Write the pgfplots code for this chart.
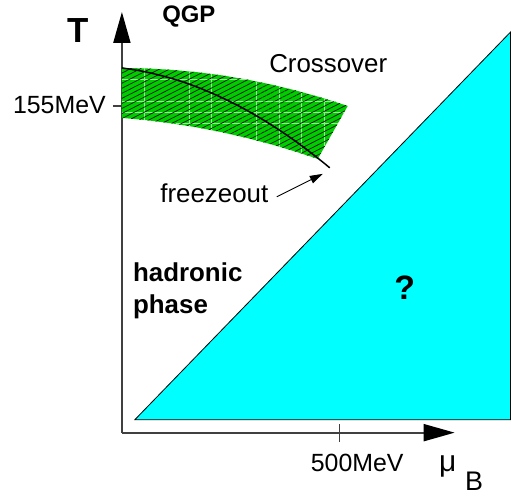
\documentclass[border=0pt]{standalone}
\usepackage{fontspec}
\setmainfont{Liberation Sans}
\usepackage{pgfplots}
\pgfplotsset{compat=1.18}
\usetikzlibrary{arrows.meta,patterns.meta}
\definecolor{bandgreen}{RGB}{0,204,0}
\definecolor{gridgreen}{RGB}{150,235,150}
\definecolor{axgray}{RGB}{64,64,64}
\definecolor{qcyan}{RGB}{0,255,255}
\begin{document}
\begin{tikzpicture}
\begin{axis}[
  x=1bp, y=1bp, xmin=0, xmax=333, ymin=0, ymax=421,
  axis lines=left, clip=false,
  axis line style={draw=axgray, line width=2bp, -{Triangle[length=31bp,width=17bp,color=black]}},
  xtick={218}, ytick={327}, xticklabels={}, yticklabels={},
  tick align=center, major tick length=18bp,
  tick style={draw=axgray, line width=1.3bp},
]
% invisible frame fixing the picture size
\path (axis cs:-122,-66) rectangle (axis cs:389,433);
% unknown region (triangle)
\addplot[fill=qcyan, draw=black, line width=0.8bp] coordinates {(13,13) (389,13) (389,401)} -- cycle;
% crossover band
\addplot[fill=bandgreen, draw=none] coordinates {
(0,365) (25,364.5) (50,363.1) (75,360.8) (100,357.6) (125,353.4) (150,348.3) (175,342.2) (200,335.2) (226,327)
(196,274) (175,280.9) (150,288.4) (125,294.9) (100,300.7) (75,305.5) (50,309.5) (25,312.7) (0,315)} -- cycle;
% light grid inside the band
\addplot[gridgreen, line width=1bp] coordinates {(22.5,364.6) (22.5,313.0)};
\addplot[gridgreen, line width=1bp] coordinates {(67.5,361.6) (67.5,306.8)};
\addplot[gridgreen, line width=1bp] coordinates {(90,359.0) (90,302.7)};
\addplot[gridgreen, line width=1bp] coordinates {(135,351.4) (135,292.4)};
\addplot[gridgreen, line width=1bp] coordinates {(157.5,346.5) (157.5,286.2)};
\addplot[gridgreen, line width=1bp] coordinates {(180,340.9) (180,279.3)};
\addplot[gridgreen, line width=1bp] coordinates {(202.5,334.5) (202.5,285.5)};
\addplot[gridgreen, line width=1bp] coordinates {(0,353) (127,353)};
\addplot[gridgreen, line width=1bp] coordinates {(0,331) (213.8,331)};
\addplot[gridgreen, line width=1bp] coordinates {(0,320) (222,320)};
\addplot[gridgreen, line width=1bp] coordinates {(53.8,309) (215.8,309)};
% hatching
\addplot[pattern={Lines[angle=27, distance=4.5bp, line width=0.6bp]}, pattern color=black, draw=none] coordinates {
(0,365) (25,364.5) (50,363.1) (75,360.8) (100,357.6) (125,353.4) (150,348.3) (175,342.2) (200,335.2) (226,327)
(196,274) (175,280.9) (150,288.4) (125,294.9) (100,300.7) (75,305.5) (50,309.5) (25,312.7) (0,315)} -- cycle;
% freeze-out curve
\addplot[black, line width=1.5bp, smooth] coordinates {
(0,365) (20,361.8) (40,357.2) (60,351.3) (80,344.0) (100,335.3) (120,325.3) (140,313.9) (160,301.2) (180,287.1) (200,271.6) (208,265)};
% freezeout arrow
\addplot[black, line width=0.9bp, -{Triangle[length=13bp,width=8bp]}] coordinates {(155,236) (201,259)};
% labels
\node[anchor=base, inner sep=0, font=\fontsize{35}{40}\selectfont\bfseries] at (axis cs:-43.5,390) {T};
\node[anchor=base, inner sep=0, font=\fontsize{24}{28}\selectfont\bfseries] at (axis cs:67,410) {QGP};
\node[anchor=base, inner sep=0, font=\fontsize{26}{30}\selectfont] at (axis cs:206.5,360) {Crossover};
\node[anchor=base, inner sep=0, font=\fontsize{26}{30}\selectfont] at (axis cs:92.5,230) {freezeout};
\node[anchor=base west, inner sep=0, font=\fontsize{26}{30}\selectfont\bfseries] at (axis cs:11,151) {hadronic};
\node[anchor=base west, inner sep=0, font=\fontsize{26}{30}\selectfont\bfseries] at (axis cs:11,119) {phase};
\node[anchor=base, inner sep=0, font=\fontsize{34}{40}\selectfont\bfseries] at (axis cs:283,133) {?};
\node[anchor=base, inner sep=0, font=\fontsize{25}{30}\selectfont] at (axis cs:235.5,-38.7) {500MeV};
\node[anchor=base east, inner sep=0, font=\fontsize{25}{30}\selectfont] at (axis cs:-16,319.7) {155MeV};
\node[anchor=base, inner sep=0, font=\fontsize{30}{34}\selectfont] at (axis cs:326,-39) {μ};
\node[anchor=base, inner sep=0, font=\fontsize{27}{32}\selectfont] at (axis cs:352.5,-58) {B};
\end{axis}
\end{tikzpicture}
\end{document}
